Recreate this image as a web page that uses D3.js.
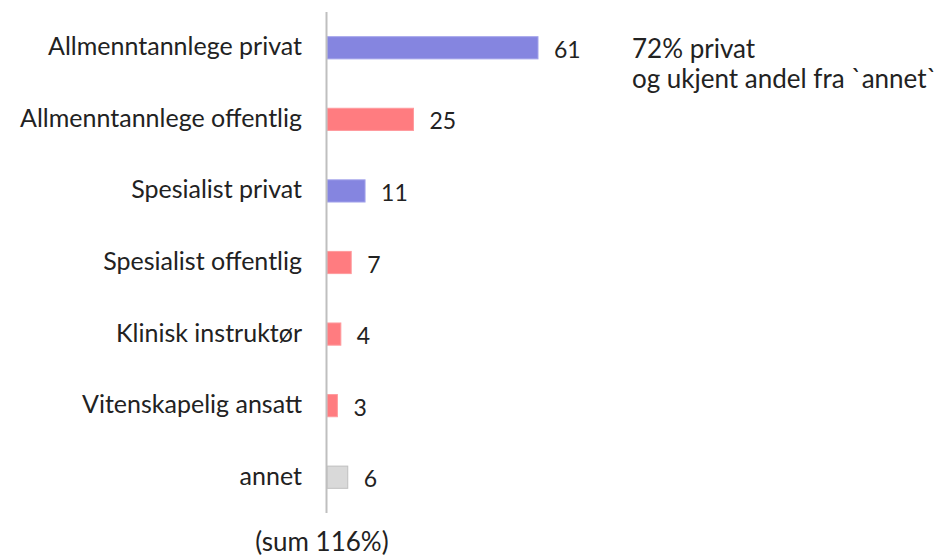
<!DOCTYPE html>
<html>
<head>
<meta charset="utf-8">
<script src="https://cdn.jsdelivr.net/npm/d3@7"></script>
<style>
  html, body { margin: 0; padding: 0; background: #fff; }
  svg text { font-family: Lato, "Open Sans", sans-serif; fill: #222; }
</style>
</head>
<body>
<div id="chart"></div>
<script>
// Roles (share of respondents, %)
const categories = [
  'Allmenntannlege privat',
  'Allmenntannlege offentlig',
  'Spesialist privat',
  'Spesialist offentlig',
  'Klinisk instruktør',
  'Vitenskapelig ansatt',
  'annet'
];
const values  = [61, 25, 11, 7, 4, 3, 6];
const sectors = ['privat', 'offentlig', 'privat', 'offentlig', 'offentlig', 'offentlig', 'annet'];

const noteLines = ['72% privat', 'og ukjent andel fra `annet`'];
const footnote  = '(sum 116%)';

const W = 938, H = 558;
const x0 = 327;

const svg = d3.select('#chart').append('svg')
  .attr('width', W).attr('height', H);

const x = d3.scaleLinear().domain([0, 61]).range([x0, 538]);
const y = d3.scaleBand().domain(categories).range([12, 513]).paddingInner(0.69).paddingOuter(0.345);

const fill   = { privat: '#8585e0', offentlig: '#ff7c80', annet: '#d9d9d9' };
const stroke = { privat: '#a3a3ea', offentlig: '#ff9a9d', annet: '#bfbfbf' };

const rows = categories.map((c, i) => ({ c, v: values[i], s: sectors[i] }));

// Bars
svg.append('g').selectAll('rect')
  .data(rows)
  .join('rect')
  .attr('x', x(0))
  .attr('y', d => y(d.c))
  .attr('width', d => x(d.v) - x(0))
  .attr('height', y.bandwidth())
  .attr('fill', d => fill[d.s])
  .attr('stroke', d => stroke[d.s])
  .attr('stroke-width', 1);

// Vertical axis line
svg.append('line')
  .attr('x1', x0 - 0.5).attr('x2', x0 - 0.5)
  .attr('y1', 12).attr('y2', 513)
  .attr('stroke', '#bfbfbf').attr('stroke-width', 2);

// Category labels
svg.append('g').selectAll('text')
  .data(rows)
  .join('text')
  .attr('x', 302)
  .attr('y', d => y(d.c) + y.bandwidth() / 2)
  .attr('dy', '0.3em')
  .attr('text-anchor', 'end')
  .attr('font-size', 25)
  .text(d => d.c);

// Value labels
svg.append('g').selectAll('text')
  .data(rows)
  .join('text')
  .attr('x', d => x(d.v) + 16)
  .attr('y', d => y(d.c) + y.bandwidth() / 2)
  .attr('dy', '0.44em')
  .attr('font-size', 23)
  .text(d => d.v);

// Annotation
svg.append('g').selectAll('text')
  .data(noteLines)
  .join('text')
  .attr('x', 632)
  .attr('y', (d, i) => 58 + i * 30)
  .attr('font-size', 26)
  .attr('fill', '#000')
  .text(d => d);

svg.append('text')
  .attr('x', 322)
  .attr('y', 551)
  .attr('text-anchor', 'middle')
  .attr('font-size', 26)
  .text(footnote);
</script>
</body>
</html>
